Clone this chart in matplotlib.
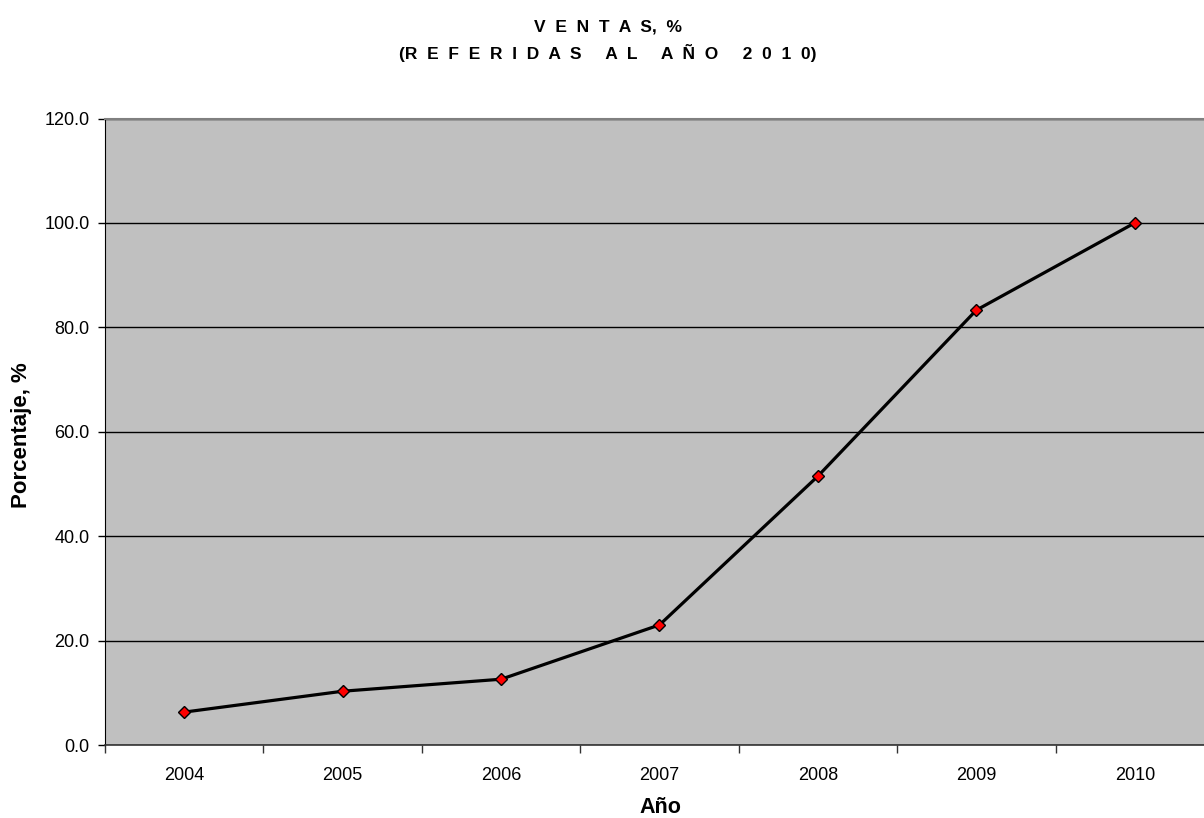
import matplotlib.pyplot as plt
import numpy as np

plt.rcParams['font.family'] = ['Liberation Sans', 'DejaVu Sans']

years = ['2004', '2005', '2006', '2007', '2008', '2009', '2010']
ventas = [6.3, 10.3, 12.6, 23.0, 51.5, 83.3, 100.0]
yticks = [0, 20, 40, 60, 80, 100, 120]

title1 = 'V  E  N  T  A  S,  %'
title2 = '(R  E  F  E  R  I  D  A  S     A  L     A  Ñ  O     2  0  1  0)'

fig = plt.figure(figsize=(12.04, 8.18), dpi=100)
ax = fig.add_axes([105 / 1204, 73 / 818, 1109 / 1204, 626.5 / 818])
ax.set_facecolor('#C0C0C0')

x = np.arange(len(years))
ax.plot(x, ventas, color='black', linewidth=2.3, marker='D', markersize=6.5,
        markerfacecolor='red', markeredgecolor='black', markeredgewidth=1.0,
        zorder=3)

ax.set_xlim(-0.5, len(years) - 0.5)
ax.set_ylim(0, 120)
ax.set_yticks(yticks)
ax.set_yticklabels(['%.1f' % v for v in yticks])
ax.yaxis.grid(True, color='black', linewidth=1.0)
ax.set_axisbelow(True)

# category axis: labels at centres, ticks between categories
ax.set_xticks(x)
ax.set_xticklabels(years)
ax.set_xticks(np.arange(-0.5, len(years), 1.0), minor=True)
ax.tick_params(axis='x', which='major', length=0, pad=15.5, labelsize=13)
ax.tick_params(axis='x', which='minor', length=6, width=1, color='#333333')
ax.tick_params(axis='y', length=5, width=1, labelsize=13, pad=6)

ax.spines['top'].set_color('#808080')
ax.spines['top'].set_linewidth(1.5)
ax.spines['right'].set_visible(False)
ax.spines['left'].set_color('black')
ax.spines['bottom'].set_color('#333333')
ax.spines['bottom'].set_linewidth(1.2)

ax.set_xlabel('Año', fontsize=15.5, fontweight='bold')
ax.set_ylabel('Porcentaje, %', fontsize=16, fontweight='bold')
ax.xaxis.set_label_coords(0.501, -0.083)
ax.yaxis.set_label_coords(-0.066, 0.495)

fig.text(0.505, 1 - 26.5 / 818, title1, ha='center', va='center',
         fontsize=12.5, fontweight='bold')
fig.text(0.505, 1 - 53.5 / 818, title2, ha='center', va='center',
         fontsize=12.5, fontweight='bold')

fig.savefig('out.png', dpi=100)
